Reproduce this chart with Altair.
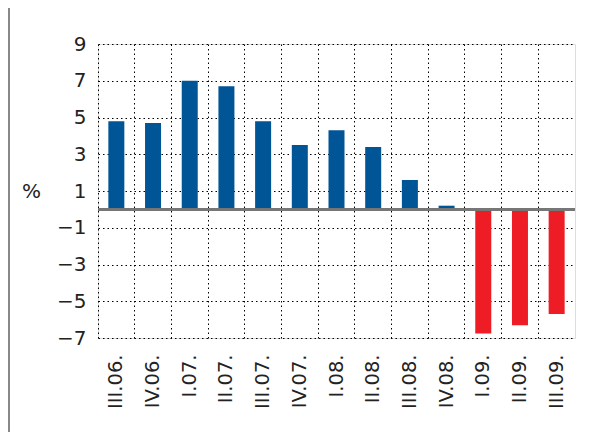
import altair as alt
import pandas as pd

quarters = ["III.06.", "IV.06.", "I.07.", "II.07.", "III.07.", "IV.07.", "I.08.",
            "II.08.", "III.08.", "IV.08.", "I.09.", "II.09.", "III.09."]
values = [4.8, 4.7, 7.0, 6.7, 4.8, 3.5, 4.3, 3.4, 1.6, 0.2, -6.75, -6.3, -5.7]
y_ticks = [9, 7, 5, 3, 1, -1, -3, -5, -7]

df = pd.DataFrame({"q": quarters, "v": values})

FONT = "DejaVu Sans"

x_enc = alt.X("q:N", sort=quarters, title=None,
              scale=alt.Scale(paddingInner=0, paddingOuter=0),
              axis=alt.Axis(labelAngle=270, labelFontSize=19.5, labelFont=FONT,
                            labelColor="#222", labelPadding=16, ticks=False,
                            labelOverlap=False,
                            domain=False, grid=True, gridDash=[1.5, 3],
                            gridColor="#000", gridWidth=1, bandPosition=0))
y_enc = alt.Y("v:Q", title="%",
              scale=alt.Scale(domain=[-7, 9], nice=False, zero=False),
              axis=alt.Axis(values=y_ticks, labelFontSize=20, labelFont=FONT,
                            labelColor="#222", labelPadding=12, ticks=False,
                            labelOverlap=False, tickCount=len(y_ticks),
                            domain=False, grid=True, gridDash=[1.5, 3],
                            gridColor="#000", gridWidth=1,
                            labelExpr="replace(datum.label, '-', '\u2013')",
                            labelFontWeight="normal",
                            titleAngle=0, titleFont=FONT, titleFontSize=20,
                            titleFontWeight="normal", titleColor="#222",
                            titleX=-67, titleY=147, titleAlign="center",
                            titleBaseline="middle"))

bars = alt.Chart(df).mark_bar(width=16).encode(
    x=x_enc,
    y=y_enc,
    y2=alt.datum(0),
    color=alt.condition(alt.datum.v > 0, alt.value("#005596"), alt.value("#EE1C25")),
)

zero = alt.Chart(df).mark_rule(color="#777", strokeWidth=2).encode(
    y=alt.datum(0)
)

left_line = alt.Chart(df).mark_rule(color="#888", strokeWidth=2).encode(
    x=alt.value(-89), y=alt.value(-36), y2=alt.value(394)
)

chart = alt.layer(bars, zero, left_line).properties(
    width=477, height=294,
    autosize=alt.AutoSizeParams(type="none"),
    padding={"left": 90, "top": 36, "right": 24, "bottom": 94},
).configure_view(stroke="#666", strokeWidth=1.5).configure(background="white")

chart.save("out.html", embed_options={"renderer": "svg", "actions": False})
